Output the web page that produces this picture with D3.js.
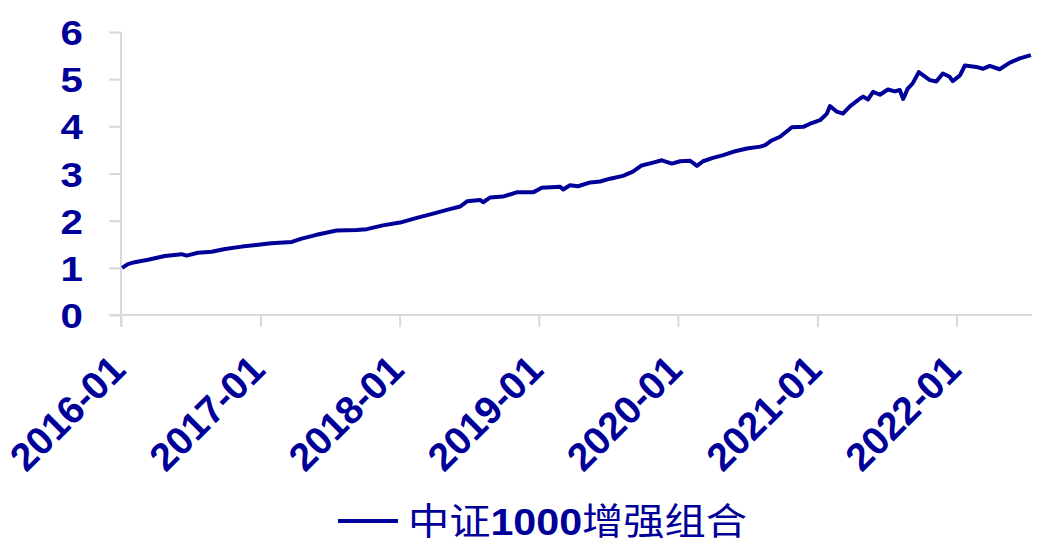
<!DOCTYPE html>
<html><head><meta charset="utf-8">
<script src="https://cdn.jsdelivr.net/npm/d3@7"></script>
<style>html,body{margin:0;padding:0;background:#fff;}svg{display:block;}</style>
</head><body>
<svg id="chart" width="1044" height="549"></svg>
<script>
const dates = ["2016-01-04","2016-01-19","2016-02-06","2016-03-12","2016-04-25","2016-06-08","2016-06-21","2016-07-21","2016-08-26","2016-09-30","2016-11-13","2016-12-26","2017-01-29","2017-03-24","2017-04-19","2017-05-28","2017-07-20","2017-09-10","2017-10-07","2017-11-18","2018-01-02","2018-02-15","2018-03-30","2018-05-05","2018-06-09","2018-06-27","2018-07-31","2018-08-08","2018-08-26","2018-09-29","2018-11-04","2018-12-17","2019-01-09","2019-02-26","2019-03-06","2019-03-24","2019-04-14","2019-05-16","2019-06-11","2019-07-07","2019-08-10","2019-09-05","2019-09-28","2019-10-28","2019-11-20","2019-12-16","2020-01-07","2020-02-02","2020-02-20","2020-03-07","2020-04-02","2020-04-29","2020-05-25","2020-06-30","2020-08-04","2020-08-17","2020-09-03","2020-09-25","2020-10-26","2020-11-25","2020-12-17","2021-01-08","2021-01-26","2021-02-03","2021-02-21","2021-03-09","2021-03-28","2021-04-23","2021-05-01","2021-05-14","2021-05-27","2021-06-14","2021-07-05","2021-07-23","2021-08-05","2021-08-14","2021-08-26","2021-09-08","2021-09-24","2021-10-23","2021-11-09","2021-11-26","2021-12-14","2021-12-22","2022-01-10","2022-01-23","2022-02-22","2022-03-11","2022-03-29","2022-04-24","2022-05-21","2022-06-16","2022-07-15"];
const values = [1.00,1.08,1.12,1.17,1.25,1.29,1.26,1.32,1.34,1.40,1.45,1.49,1.52,1.55,1.62,1.70,1.79,1.80,1.82,1.90,1.96,2.06,2.15,2.23,2.30,2.41,2.44,2.39,2.49,2.51,2.60,2.60,2.70,2.72,2.66,2.75,2.73,2.81,2.83,2.89,2.95,3.04,3.17,3.23,3.28,3.21,3.26,3.27,3.16,3.26,3.33,3.39,3.46,3.53,3.57,3.60,3.70,3.78,3.98,3.99,4.07,4.13,4.27,4.43,4.31,4.27,4.43,4.59,4.63,4.57,4.73,4.67,4.78,4.74,4.77,4.58,4.80,4.91,5.15,4.98,4.95,5.12,5.05,4.96,5.08,5.29,5.26,5.22,5.28,5.21,5.35,5.44,5.51];
const yTicks = [0,1,2,3,4,5,6];
const xTickLabels = ["2016-01","2017-01","2018-01","2019-01","2020-01","2021-01","2022-01"];
const seriesName = "中证1000增强组合";

const parse = d3.timeParse("%Y-%m-%d");
const data = dates.map((d,i)=>({date:parse(d), value:values[i]}));
const navy = "#000099";
const svg = d3.select("#chart");
const x = d3.scaleTime().domain([parse("2016-01-01"), parse("2022-07-18")]).range([121,1032]);
const y = d3.scaleLinear().domain([0,6]).range([315,32]);

// y axis
const yAxis = svg.append("g").attr("transform","translate(121,0)")
  .call(d3.axisLeft(y).tickValues(yTicks).tickSize(12).tickFormat(d3.format("d")));
yAxis.select(".domain").attr("stroke","#d9d9d9").attr("stroke-width",2).attr("d","M0,32V327");
yAxis.selectAll(".tick line").attr("stroke","#d9d9d9").attr("stroke-width",2);
yAxis.selectAll(".tick text").attr("x",0).attr("dy","0.36em")
  .attr("transform","translate(-38,0) scale(1.15,1)")
  .attr("fill",navy).style("font-family","'Liberation Sans',Arial,sans-serif")
  .style("font-weight","bold").style("font-size","35px");

// x axis
const xTickDates = xTickLabels.map(s=>d3.timeParse("%Y-%m")(s));
const xAxis = svg.append("g").attr("transform","translate(0,315)")
  .call(d3.axisBottom(x).tickValues(xTickDates).tickSize(12).tickFormat((d,i)=>xTickLabels[i]));
xAxis.select(".domain").attr("stroke","#d9d9d9").attr("stroke-width",2).attr("d","M109,0H1032");
xAxis.selectAll(".tick line").attr("stroke","#d9d9d9").attr("stroke-width",2);
xAxis.selectAll(".tick text")
  .attr("text-anchor","end").attr("y",0).attr("dy",0)
  .attr("transform","translate(6,57) rotate(-45)")
  .attr("fill",navy).style("font-family","'Liberation Sans',Arial,sans-serif")
  .style("font-weight","bold").style("font-size","39px");

// line
svg.append("path").datum(data)
  .attr("fill","none").attr("stroke",navy).attr("stroke-width",4)
  .attr("stroke-linejoin","round")
  .attr("d", d3.line().x(d=>x(d.date)).y(d=>y(d.value)));

// legend
const lg = svg.append("g");
lg.append("line").attr("x1",338).attr("x2",398).attr("y1",521).attr("y2",521)
  .attr("stroke",navy).attr("stroke-width",4);
const lt = lg.append("text").attr("x",408).attr("y",535).attr("fill",navy)
  .attr("textLength",339).attr("lengthAdjust","spacingAndGlyphs")
  .style("font-size","37px");
const parts = seriesName.match(/[0-9]+|[^0-9]+/g);
parts.forEach(p=>{
  const isNum = /^[0-9]+$/.test(p);
  lt.append("tspan").text(p)
    .style("font-family", isNum ? "'Liberation Sans',Arial,sans-serif" : "'Noto Sans CJK SC',sans-serif")
    .style("font-weight", isNum ? "bold" : "normal");
});
</script>
</body></html>
